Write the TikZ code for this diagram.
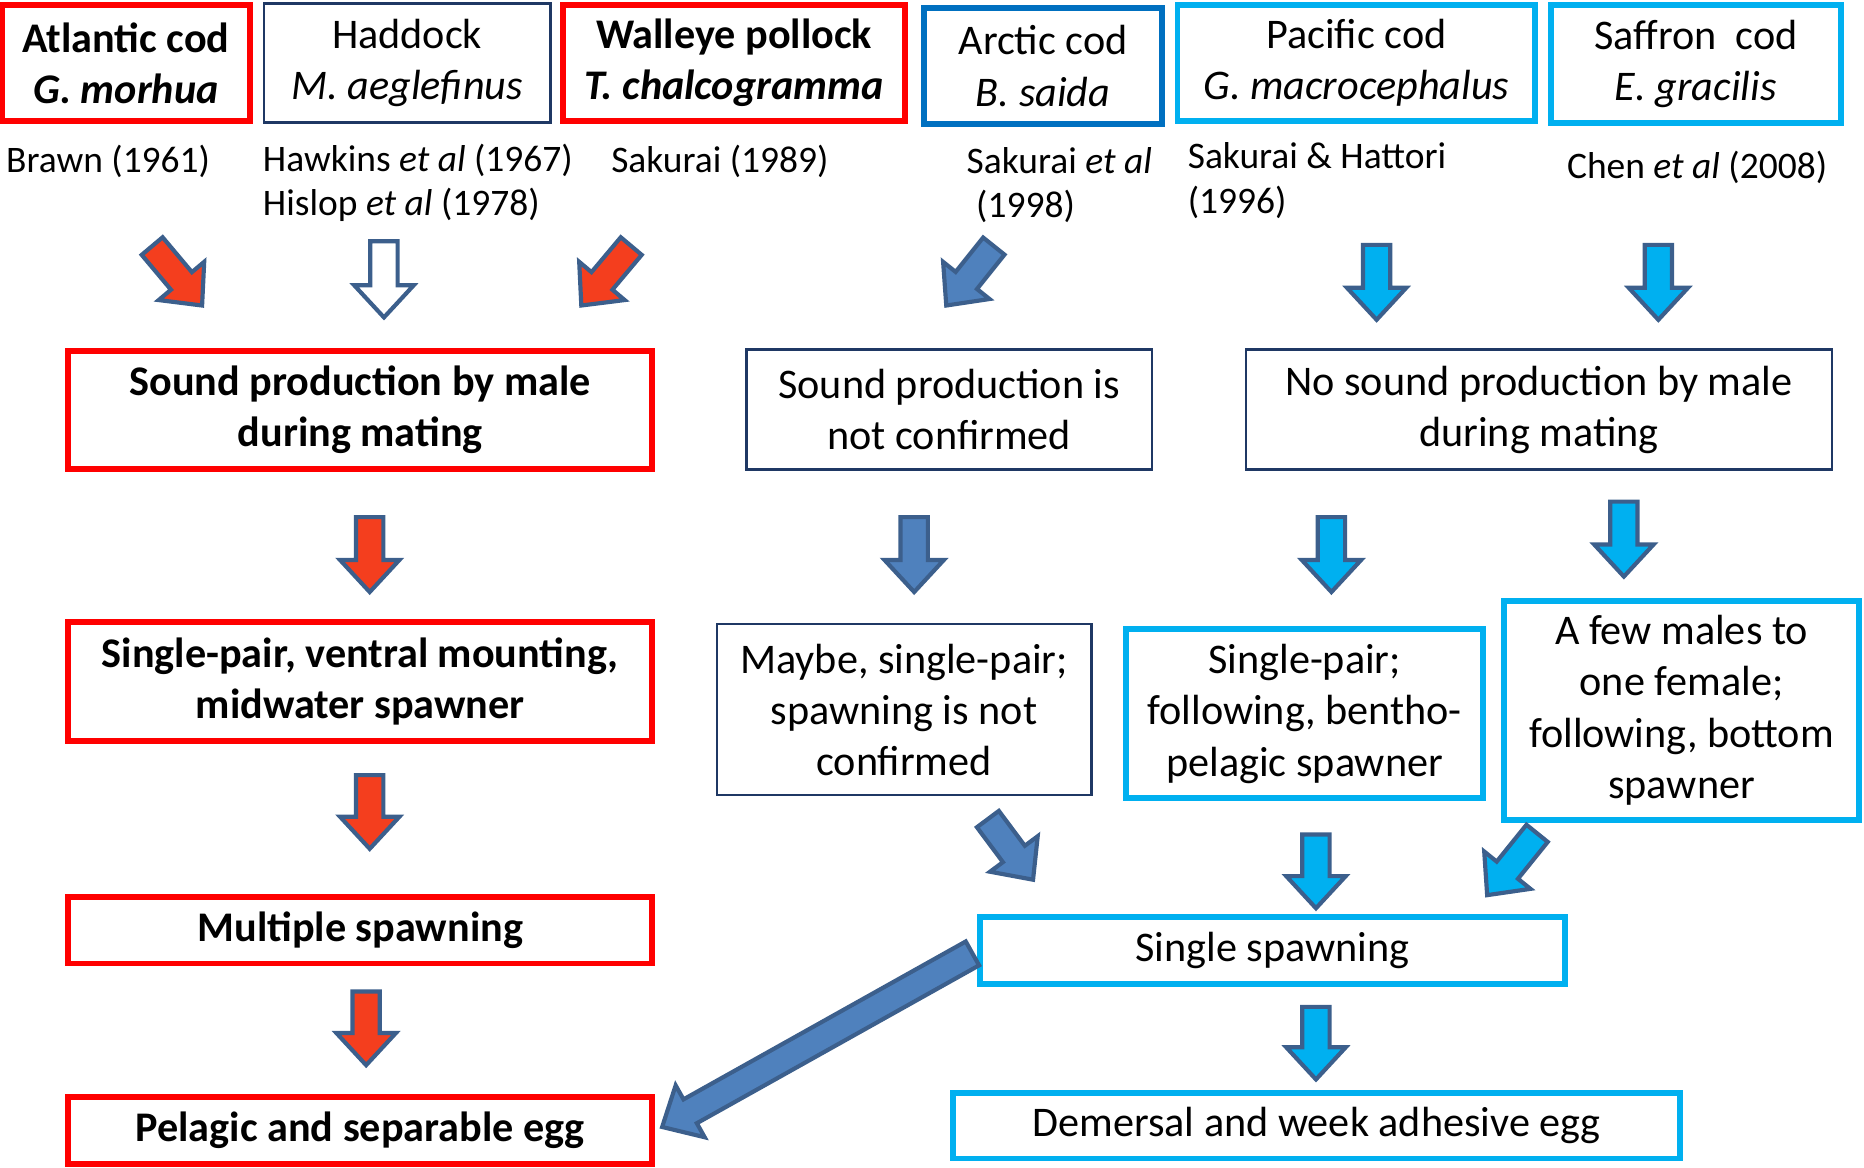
\documentclass[tikz,border=0pt]{standalone}
\usepackage{fontspec}
\setmainfont{Carlito}
\usetikzlibrary{calc}
\definecolor{bred}{RGB}{255,0,0}
\definecolor{acyan}{RGB}{0,176,240}
\definecolor{ablue}{RGB}{0,112,192}
\definecolor{navy}{RGB}{31,56,100}
\definecolor{arrred}{RGB}{244,62,30}
\definecolor{arrblue}{RGB}{79,129,189}
\definecolor{arredge}{RGB}{60,95,140}
\newcommand{\blk}[3]{%
  \coordinate (#2-b) at ($(#3)!27pt!(#2)$);
  \draw[#1] ($(#2)!11.5pt!90:(#3)$) -- ($(#2-b)!11.5pt!-90:(#2)$) -- ($(#2-b)!25pt!-90:(#2)$) -- (#3) -- ($(#2-b)!25pt!90:(#2)$) -- ($(#2-b)!11.5pt!90:(#2)$) -- ($(#2)!11.5pt!-90:(#3)$) -- cycle;}
\begin{document}
\begin{tikzpicture}[x=1pt,y=-1pt,
  txt/.style={font=\fontsize{35.5}{43}\selectfont, align=center, inner sep=0pt},
  btxt/.style={font=\fontsize{35.5}{43}\selectfont\bfseries, align=center, inner sep=0pt},
  redbox/.style={btxt, draw=bred, line width=5pt},
  thinbox/.style={txt, draw=navy, line width=2pt},
  cyanbox/.style={txt, draw=acyan, line width=5pt},
  bluebox/.style={txt, draw=ablue, line width=5pt},
  reftxt/.style={font=\fontsize{31.5}{38}\selectfont, inner sep=0pt, anchor=base west},
  redarr/.style={fill=arrred, draw=arredge, line width=3.5pt},
  bluearr/.style={fill=arrblue, draw=arredge, line width=3.5pt},
  cyanarr/.style={fill=acyan, draw=arredge, line width=3.5pt},
  hollowarr/.style={fill=white, draw=arredge, line width=3.5pt}]
\useasboundingbox (0,0) rectangle (1568,982);
% top row
\node[redbox, minimum width=208pt, minimum height=97pt] (atl) at (106,53) {Atlantic cod\\\textit{G. morhua}};
\node[thinbox, minimum width=241pt, minimum height=100pt] (had) at (342.5,53) {Haddock\\\textit{M. aeglefinus}};
\node[redbox, minimum width=288pt, minimum height=97pt] (wal) at (617.5,53) {Walleye pollock\\\textit{T. chalcogramma}};
\node[bluebox, minimum width=200pt, minimum height=98pt] (arc) at (877.5,55.5) {Arctic cod\\\textit{B. saida}};
\node[cyanbox, minimum width=301pt, minimum height=97pt] (pac) at (1141,53) {Pacific cod\\\textit{G. macrocephalus}};
\node[cyanbox, minimum width=244pt, minimum height=99pt] (saf) at (1426.5,54) {Saffron\ \ cod\\\textit{E. gracilis}};
% references
\node[reftxt] (r1) at (5,145) {Brawn (1961)};
\node[reftxt] (r2a) at (221,144) {Hawkins \textit{et al} (1967)};
\node[reftxt] (r2b) at (221,181) {Hislop \textit{et al} (1978)};
\node[reftxt] (r3) at (514,145) {Sakurai (1989)};
\node[reftxt] (r4a) at (813,146) {Sakurai \textit{et al}};
\node[reftxt] (r4b) at (821,183) {(1998)};
\node[reftxt] (r5a) at (999,142) {Sakurai \& Hattori};
\node[reftxt] (r5b) at (999,180) {(1996)};
\node[reftxt] (r6) at (1318,150) {Chen \textit{et al} (2008)};
% row 2
\node[redbox, minimum width=491pt, minimum height=99pt] (b1) at (303,345) {Sound production by male\\during mating};
\node[thinbox, minimum width=341pt, minimum height=101pt] (b2) at (798.5,344.5) {Sound production is\\not confirmed};
\node[thinbox, minimum width=493pt, minimum height=101pt] (b3) at (1294.5,344.5) {No sound production by male\\during mating};
% row 3
\node[redbox, minimum width=491pt, minimum height=100pt] (c1) at (303,573.5) {Single-pair, ventral mounting,\\midwater spawner};
\node[thinbox, minimum width=315pt, minimum height=144pt] (c2) at (760.5,597) {Maybe, single-pair;\\spawning is not\\confirmed};
\node[cyanbox, minimum width=300pt, minimum height=142pt] (c3) at (1097.5,600.5) {Single-pair;\\following, bentho-\\pelagic spawner};
\node[cyanbox, minimum width=298pt, minimum height=184pt] (c4) at (1414.5,597.5) {A few males to\\one female;\\following, bottom\\spawner};
% row 4
\node[redbox, minimum width=491pt, minimum height=56pt] (d1) at (303,782.5) {Multiple spawning};
\node[cyanbox, minimum width=492pt, minimum height=56pt] (d2) at (1070.5,799.5) {Single spawning};
% row 5
\node[redbox, minimum width=491pt, minimum height=56pt] (e1) at (303,951) {Pelagic and separable egg};
\node[cyanbox, minimum width=612pt, minimum height=55pt] (e2) at (1107.5,947) {Demersal and week adhesive egg};
% arrow coordinates
\coordinate (a1t) at (128,207); \coordinate (a1p) at (170,257);
\coordinate (a2t) at (323,203); \coordinate (a2p) at (323,267);
\coordinate (a3t) at (531,207); \coordinate (a3p) at (489,257);
\coordinate (a4t) at (836,207); \coordinate (a4p) at (796,257);
\coordinate (a5t) at (1158,206); \coordinate (a5p) at (1158,269);
\coordinate (a6t) at (1395,206); \coordinate (a6p) at (1395,269);
\coordinate (g1t) at (311,435); \coordinate (g1p) at (311,498);
\coordinate (g2t) at (769,435); \coordinate (g2p) at (769,498);
\coordinate (g3t) at (1120,435); \coordinate (g3p) at (1120,498);
\coordinate (g4t) at (1366,422); \coordinate (g4p) at (1366,485);
\coordinate (h1t) at (311,652); \coordinate (h1p) at (311,714);
\coordinate (h2t) at (831,689); \coordinate (h2p) at (869,740);
\coordinate (h3t) at (1107,702); \coordinate (h3p) at (1107,764);
\coordinate (h4t) at (1293,701); \coordinate (h4p) at (1251,753);
\coordinate (k1t) at (308,834); \coordinate (k1p) at (308,896);
\coordinate (k2t) at (1107,847); \coordinate (k2p) at (1107,908);
\coordinate (k3t) at (818,802); \coordinate (k3p) at (557,948);
% arrows
\blk{redarr}{a1t}{a1p}
\blk{hollowarr}{a2t}{a2p}
\blk{redarr}{a3t}{a3p}
\blk{bluearr}{a4t}{a4p}
\blk{cyanarr}{a5t}{a5p}
\blk{cyanarr}{a6t}{a6p}
\blk{redarr}{g1t}{g1p}
\blk{bluearr}{g2t}{g2p}
\blk{cyanarr}{g3t}{g3p}
\blk{cyanarr}{g4t}{g4p}
\blk{redarr}{h1t}{h1p}
\blk{bluearr}{h2t}{h2p}
\blk{cyanarr}{h3t}{h3p}
\blk{cyanarr}{h4t}{h4p}
\blk{redarr}{k1t}{k1p}
\blk{cyanarr}{k2t}{k2p}
\blk{bluearr}{k3t}{k3p}
\end{tikzpicture}
\end{document}
